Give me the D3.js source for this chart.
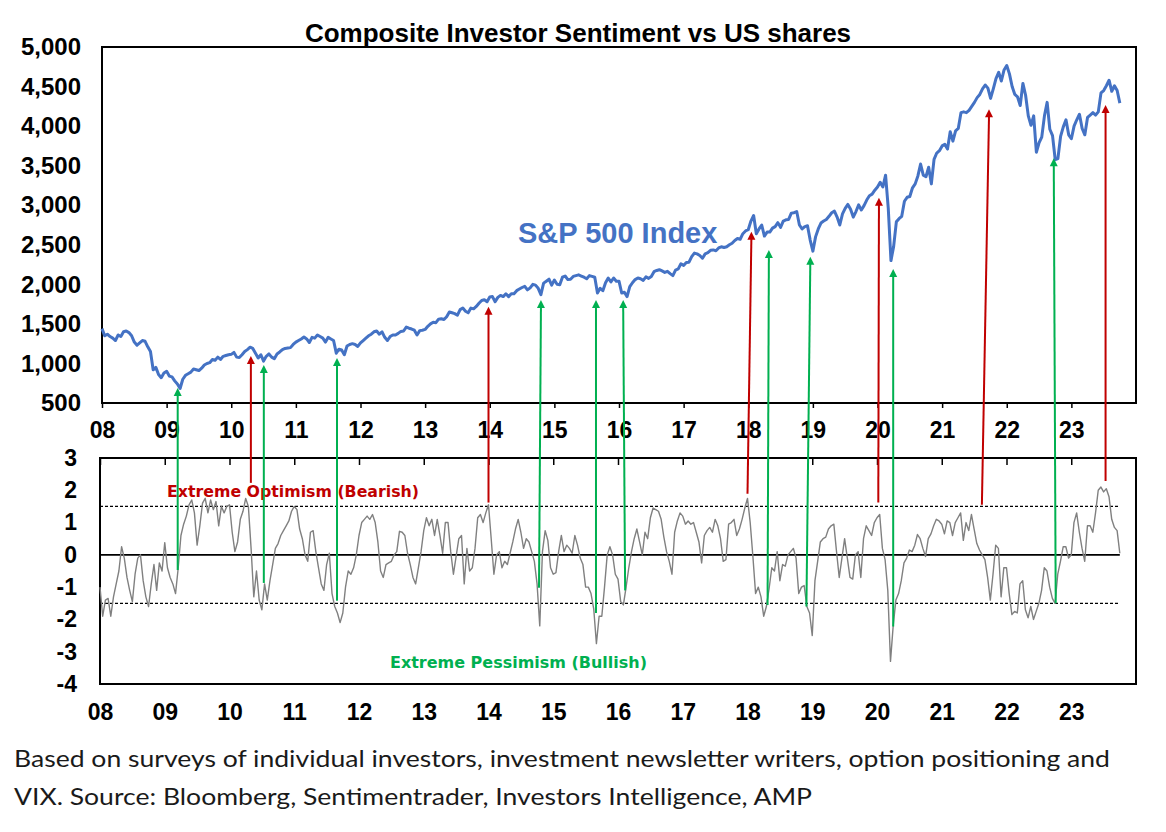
<!DOCTYPE html>
<html>
<head>
<meta charset="utf-8">
<script src="https://cdn.jsdelivr.net/npm/d3@7"></script>
<style>
  body { margin: 0; background: #fff; }
  svg { display: block; }
</style>
</head>
<body>
<svg id="chart" width="1166" height="832"></svg>
<script>
// S&P 500, two readings a month (1st and 16th)
var spx2008 = [1440, 1350, 1370, 1340, 1320, 1290, 1360, 1340, 1400, 1410, 1390, 1350, 1270, 1230, 1260, 1290, 1280, 1210, 1150, 920, 950, 860, 820, 880];
var spx2009 = [900, 840, 830, 780, 740, 683, 800, 850, 870, 890, 930, 920, 910, 940, 980, 1000, 1010, 1050, 1040, 1080, 1050, 1090, 1100, 1110];
var spx2010 = [1115, 1140, 1080, 1075, 1110, 1150, 1175, 1205, 1190, 1130, 1070, 1110, 1030, 1090, 1120, 1080, 1060, 1120, 1145, 1175, 1190, 1195, 1200, 1240];
var spx2011 = [1270, 1290, 1310, 1335, 1310, 1265, 1330, 1320, 1360, 1340, 1320, 1270, 1330, 1310, 1290, 1130, 1180, 1170, 1110, 1220, 1240, 1250, 1240, 1215];
var spx2012 = [1260, 1290, 1320, 1350, 1370, 1400, 1410, 1370, 1400, 1330, 1290, 1340, 1360, 1360, 1380, 1405, 1410, 1460, 1445, 1435, 1420, 1360, 1415, 1420];
var spx2013 = [1430, 1470, 1500, 1520, 1515, 1560, 1565, 1555, 1590, 1650, 1640, 1630, 1610, 1680, 1700, 1660, 1640, 1700, 1690, 1720, 1760, 1795, 1805, 1780];
var spx2014 = [1840, 1845, 1780, 1835, 1860, 1845, 1880, 1845, 1880, 1880, 1920, 1940, 1960, 1975, 1930, 1955, 2000, 1990, 1950, 1870, 2015, 2040, 2065, 1990];
var spx2015 = [2055, 2000, 1995, 2090, 2105, 2060, 2065, 2100, 2110, 2120, 2105, 2090, 2070, 2110, 2100, 2090, 1890, 1950, 1920, 2020, 2080, 2030, 2080, 2040];
var spx2016 = [2040, 1890, 1900, 1845, 1970, 2020, 2060, 2080, 2070, 2050, 2095, 2075, 2100, 2160, 2175, 2185, 2170, 2150, 2165, 2135, 2110, 2180, 2195, 2260];
var spx2017 = [2240, 2275, 2280, 2350, 2395, 2385, 2365, 2330, 2385, 2400, 2430, 2435, 2425, 2460, 2475, 2465, 2475, 2500, 2520, 2555, 2580, 2570, 2640, 2675];
var spx2018 = [2690, 2800, 2870, 2640, 2700, 2750, 2610, 2660, 2660, 2710, 2730, 2780, 2720, 2800, 2815, 2820, 2900, 2905, 2920, 2750, 2700, 2730, 2740, 2560];
var spx2019 = [2420, 2600, 2700, 2775, 2800, 2820, 2860, 2905, 2925, 2850, 2750, 2890, 2960, 3010, 2950, 2850, 2920, 3005, 2940, 2995, 3065, 3120, 3140, 3190];
var spx2020 = [3230, 3290, 3230, 3380, 2960, 2300, 2480, 2790, 2830, 2860, 3050, 3100, 3110, 3220, 3270, 3370, 3520, 3380, 3360, 3480, 3270, 3580, 3660, 3690];
var spx2021 = [3750, 3770, 3710, 3930, 3810, 3940, 3970, 4170, 4180, 4170, 4200, 4250, 4300, 4360, 4400, 4470, 4520, 4480, 4350, 4470, 4600, 4680, 4570, 4710];
var spx2022 = [4766, 4660, 4500, 4400, 4370, 4260, 4540, 4390, 4130, 4010, 4130, 3670, 3790, 3860, 4130, 4300, 3960, 3880, 3575, 3590, 3870, 3990, 4080, 3890];
var spx2023 = [3840, 4000, 4080, 4150, 3970, 3890, 4110, 4140, 4170, 4140, 4180, 4420, 4450, 4510, 4580, 4440, 4510, 4450, 4290];

// composite sentiment (z-score), same dates
var sent2008 = [-1.0, -1.9, -1.4, -1.35, -1.9, -1.3, -0.9, -0.5, 0.25, -0.1, -0.7, -1.1, -1.45, -0.6, -0.1, 0.0, -0.8, -1.3, -1.6, -0.9, -0.3, -1.1, -0.25, -0.5];
var sent2009 = [0.38, -0.4, -0.7, -0.9, -1.2, -0.4, 0.6, 0.95, 1.2, 1.55, 1.7, 1.3, 0.3, 0.9, 1.6, 1.75, 1.3, 1.7, 1.4, 1.65, 0.9, 1.5, 1.3, 1.5];
var sent2010 = [1.55, 0.7, 0.1, 0.4, 1.1, 1.35, 1.75, 1.5, 0.2, -1.3, -0.5, -1.4, -1.7, -0.9, -1.4, -0.8, -0.3, 0.2, 0.35, 0.6, 0.75, 0.9, 1.05, 1.35];
var sent2011 = [1.5, 1.4, 0.8, 0.5, 0.0, -0.2, 0.7, 0.75, 0.1, -0.4, -0.9, -1.1, -0.3, 0.05, -1.2, -1.6, -1.8, -2.1, -1.8, -1.0, -0.5, -0.6, -0.4, 0.0];
var sent2012 = [0.6, 1.0, 1.1, 1.2, 1.1, 1.25, 1.0, 0.4, -0.5, -0.7, -0.3, -0.25, -0.2, 0.0, 0.1, 0.73, 0.7, 0.6, 0.05, -0.3, -0.7, -0.9, -0.4, 0.1];
var sent2013 = [0.75, 1.15, 0.9, 1.1, 0.6, 1.1, 0.6, 0.05, 1.0, 1.0, 0.1, -0.6, -0.05, 0.5, 0.6, -0.9, 0.2, -0.5, -0.4, 0.2, 1.15, 1.25, 1.0, 1.3];
var sent2014 = [1.55, 0.5, -0.6, 0.0, 0.1, -0.4, -0.2, -0.3, 0.05, 0.4, 0.8, 1.1, 0.7, 0.2, 0.5, 0.4, 0.1, -0.2, -0.9, -2.2, 0.1, 0.75, 0.45, -0.4];
var sent2015 = [-0.6, -0.55, 0.1, 0.6, 0.1, 0.3, 0.2, 0.05, 0.6, 0.3, -0.1, -0.3, -1.0, -1.0, -1.2, -1.67, -2.75, -1.9, -1.9, -1.0, 0.0, 0.25, 0.0, -0.6];
var sent2016 = [-0.75, -1.45, -1.55, -1.0, -0.4, 0.1, 0.5, 0.8, 0.4, 0.0, 0.7, 0.5, 1.15, 1.45, 1.4, 1.35, 1.1, 0.55, 0.1, -0.2, -0.6, 0.7, 1.05, 1.3];
var sent2017 = [1.2, 0.95, 1.05, 0.95, 1.0, 0.7, 0.4, -0.25, 0.6, 0.75, 0.85, 0.7, 1.1, 0.9, 0.5, -0.2, -0.15, 0.95, 1.0, 1.1, 0.6, 0.8, 1.1, 1.45];
var sent2018 = [1.75, 1.0, -0.05, -1.2, -1.0, -1.3, -1.9, -1.6, -1.05, -0.4, -0.5, 0.1, -0.8, -0.3, -0.35, 0.0, 0.1, 0.2, -0.1, -1.2, -1.0, -0.95, -1.6, -1.8];
var sent2019 = [-2.5, -0.8, -0.2, 0.4, 0.5, 0.55, 0.8, 0.9, 0.95, 0.1, -0.7, -0.1, 0.5, -0.1, -0.7, -0.75, 0.0, 0.1, -0.7, 0.5, 0.9, 0.75, 0.6, 1.0];
var sent2020 = [1.15, 1.25, 0.2, -0.15, -1.1, -3.3, -2.2, -1.4, -1.2, -0.8, -0.25, -0.1, 0.15, 0.1, 0.3, 0.63, 0.5, 0.2, -0.05, 0.5, 0.65, 0.9, 1.1, 1.05];
var sent2021 = [0.95, 0.65, 1.05, 1.0, 0.6, 1.0, 1.15, 1.3, 0.45, 1.0, 0.75, 1.25, 0.8, 0.35, 0.15, 0.0, -0.15, -0.7, -1.4, -0.6, 0.3, 0.2, -1.3, -0.4];
var sent2022 = [-0.4, -1.2, -1.85, -1.75, -1.8, -0.9, -0.8, -1.7, -1.95, -1.6, -2.0, -1.75, -1.5, -1.1, -0.4, -0.5, -1.0, -1.35, -1.5, -0.6, -0.2, 0.25, 0.25, -0.1];
var sent2023 = [0.0, 1.0, 1.3, 0.7, 0.2, -0.2, 0.9, 0.9, 0.7, 1.3, 2.0, 2.1, 1.95, 2.05, 1.8, 1.1, 0.85, 0.75, 0.05];

var years = d3.range(2008, 2024);
var spxTicks = d3.range(500, 5001, 500);
var sentTicks = d3.range(-4, 4);
var extremes = [1.5, -1.5];

// red arrows: extreme optimism -> S&P tops
var optDateLow = [2010.33, 2014.0, 2018.0, 2020.02, 2021.62, 2023.53];
var optDateHigh = [2010.33, 2014.0, 2018.06, 2020.03, 2021.73, 2023.53];
var optSent = [2.23, 1.62, 1.89, 1.62, 1.55, 2.29];
var optSpx = [1094, 1717, 2665, 3095, 4212, 4267];

// green arrows: extreme pessimism -> S&P bottoms
var pesDateLow = [2009.2, 2010.53, 2011.66, 2014.78, 2015.66, 2016.11, 2018.31, 2018.91, 2020.25, 2022.76];
var pesDateHigh = [2009.2, 2010.53, 2011.66, 2014.81, 2015.66, 2016.08, 2018.33, 2018.97, 2020.25, 2022.73];
var pesSent = [-0.47, -0.87, -1.42, -1.02, -1.8, -1.1, -1.55, -1.6, -2.22, -1.5];
var pesSpx = [690, 980, 1069, 1802, 1802, 1802, 2434, 2349, 2195, 3593];

var spx = [].concat(spx2008, spx2009, spx2010, spx2011, spx2012, spx2013, spx2014, spx2015,
  spx2016, spx2017, spx2018, spx2019, spx2020, spx2021, spx2022, spx2023);
var sent = [].concat(sent2008, sent2009, sent2010, sent2011, sent2012, sent2013, sent2014, sent2015,
  sent2016, sent2017, sent2018, sent2019, sent2020, sent2021, sent2022, sent2023);
var lastDate = 2008 + (sent.length - 1) / 24;

var axisFont = "'Liberation Sans', Arial, sans-serif";
var red = "#C00000", green = "#00B050", blue = "#4472C4";

var svg = d3.select("#chart");

var xTop = d3.scaleLinear().domain([2008, 2024]).range([102, 1136]);
var yTop = d3.scaleLinear().domain([500, 5000]).range([403, 47]);
var xBot = d3.scaleLinear().domain([2008, 2024]).range([100, 1136]);
var yBot = d3.scaleLinear().domain([-4, 3]).range([684, 458]);

function styleText(g, size) {
  g.selectAll("text")
    .attr("font-family", axisFont)
    .attr("font-size", size)
    .attr("font-weight", "bold")
    .attr("fill", "#000");
}

// ---- top panel ----
svg.append("text")
  .attr("x", 578).attr("y", 42)
  .attr("text-anchor", "middle")
  .attr("font-family", axisFont).attr("font-size", 26).attr("font-weight", "bold")
  .text("Composite Investor Sentiment vs US shares");

svg.append("rect")
  .attr("x", xTop(2008)).attr("y", yTop(5000))
  .attr("width", xTop(2024) - xTop(2008)).attr("height", yTop(500) - yTop(5000))
  .attr("fill", "none").attr("stroke", "#000").attr("stroke-width", 2);

var gxTop = svg.append("g")
  .attr("transform", "translate(0," + yTop(500) + ")")
  .call(d3.axisBottom(xTop).tickValues(years).tickSize(5).tickPadding(14)
    .tickFormat(function(d) { return String(d % 100).padStart(2, "0"); }));
gxTop.select(".domain").remove();
gxTop.selectAll("line").attr("stroke", "#000").attr("stroke-width", 1.5);
styleText(gxTop, 23);

var gyTop = svg.append("g")
  .attr("transform", "translate(" + xTop(2008) + ",0)")
  .call(d3.axisLeft(yTop).tickValues(spxTicks).tickSize(0).tickPadding(21).tickFormat(d3.format(",")));
gyTop.select(".domain").remove();
styleText(gyTop, 24);

svg.append("path")
  .datum(spx.map(function(v, i) { return [2008 + i / 24, v]; }))
  .attr("fill", "none").attr("stroke", blue).attr("stroke-width", 3)
  .attr("stroke-linejoin", "round")
  .attr("d", d3.line().x(function(d) { return xTop(d[0]); }).y(function(d) { return yTop(d[1]); }));

svg.append("text")
  .attr("x", 518).attr("y", 243)
  .attr("font-family", axisFont).attr("font-size", 29).attr("font-weight", "bold")
  .attr("fill", blue)
  .text("S&P 500 Index");

// ---- bottom panel ----
svg.append("rect")
  .attr("x", xBot(2008)).attr("y", yBot(3))
  .attr("width", xBot(2024) - xBot(2008)).attr("height", yBot(-4) - yBot(3))
  .attr("fill", "none").attr("stroke", "#000").attr("stroke-width", 2);

var gxTicks = svg.append("g")
  .attr("transform", "translate(0," + yBot(3) + ")")
  .call(d3.axisBottom(xBot).tickValues(years).tickSize(7).tickFormat(""));
gxTicks.select(".domain").remove();
gxTicks.selectAll("line").attr("stroke", "#000").attr("stroke-width", 1.5);

var gxBot = svg.append("g")
  .attr("transform", "translate(0," + yBot(-4) + ")")
  .call(d3.axisBottom(xBot).tickValues(years).tickSize(0).tickPadding(20)
    .tickFormat(function(d) { return String(d % 100).padStart(2, "0"); }));
gxBot.select(".domain").remove();
styleText(gxBot, 23);

var gyBot = svg.append("g")
  .attr("transform", "translate(" + xBot(2008) + ",0)")
  .call(d3.axisLeft(yBot).tickValues(sentTicks).tickSize(0).tickPadding(23)
    .tickFormat(function(d) { return String(d); }));
gyBot.select(".domain").remove();
styleText(gyBot, 23);

svg.append("line")
  .attr("x1", xBot(2008)).attr("x2", xBot(lastDate))
  .attr("y1", yBot(0)).attr("y2", yBot(0))
  .attr("stroke", "#000").attr("stroke-width", 1.6);

svg.selectAll(".extreme")
  .data(extremes)
  .enter().append("line")
  .attr("class", "extreme")
  .attr("x1", xBot(2008)).attr("x2", xBot(lastDate))
  .attr("y1", function(d) { return yBot(d); }).attr("y2", function(d) { return yBot(d); })
  .attr("stroke", "#000").attr("stroke-width", 1.2).attr("stroke-dasharray", "3,2");

svg.append("path")
  .datum(sent.map(function(v, i) { return [2008 + i / 24, v]; }))
  .attr("fill", "none").attr("stroke", "#808080").attr("stroke-width", 1.4)
  .attr("stroke-linejoin", "round")
  .attr("d", d3.line().x(function(d) { return xBot(d[0]); }).y(function(d) { return yBot(d[1]); }));

svg.append("text")
  .attr("x", 167).attr("y", 497)
  .attr("font-family", "'DejaVu Sans', Verdana, sans-serif").attr("font-size", 15.5).attr("font-weight", "bold")
  .attr("textLength", 252).attr("lengthAdjust", "spacingAndGlyphs")
  .attr("fill", red)
  .text("Extreme Optimism (Bearish)");

svg.append("text")
  .attr("x", 390).attr("y", 668)
  .attr("font-family", "'DejaVu Sans', Verdana, sans-serif").attr("font-size", 15.5).attr("font-weight", "bold")
  .attr("textLength", 257).attr("lengthAdjust", "spacingAndGlyphs")
  .attr("fill", green)
  .text("Extreme Pessimism (Bullish)");

// ---- arrows linking the two panels ----
function drawArrows(dLow, dHigh, sv, pv, colour) {
  var rows = dLow.map(function(d, i) {
    return { x1: xBot(d), y1: yBot(sv[i]), x2: xBot(dHigh[i]), y2: yTop(pv[i]) };
  });
  var g = svg.append("g");
  g.selectAll("line").data(rows).enter().append("line")
    .attr("x1", function(d) { return d.x1; }).attr("y1", function(d) { return d.y1; })
    .attr("x2", function(d) { return d.x2; }).attr("y2", function(d) { return d.y2 + 6; })
    .attr("stroke", colour).attr("stroke-width", 2);
  g.selectAll("path").data(rows).enter().append("path")
    .attr("d", function(d) {
      return "M" + d.x2 + "," + d.y2 + "L" + (d.x2 - 4) + "," + (d.y2 + 8) + "L" + (d.x2 + 4) + "," + (d.y2 + 8) + "Z";
    })
    .attr("fill", colour);
}
drawArrows(optDateLow, optDateHigh, optSent, optSpx, red);
drawArrows(pesDateLow, pesDateHigh, pesSent, pesSpx, green);

// ---- note ----
var note = svg.append("g")
  .attr("font-family", "Lato, 'Open Sans', sans-serif").attr("font-size", 23).attr("fill", "#1a1a1a");
note.append("text").attr("x", 14).attr("y", 767)
  .attr("textLength", 1096).attr("lengthAdjust", "spacingAndGlyphs")
  .text("Based on surveys of individual investors, investment newsletter writers, option positioning and");
note.append("text").attr("x", 14).attr("y", 805)
  .attr("textLength", 798).attr("lengthAdjust", "spacingAndGlyphs")
  .text("VIX. Source: Bloomberg, Sentimentrader, Investors Intelligence, AMP");
</script>
</body>
</html>
